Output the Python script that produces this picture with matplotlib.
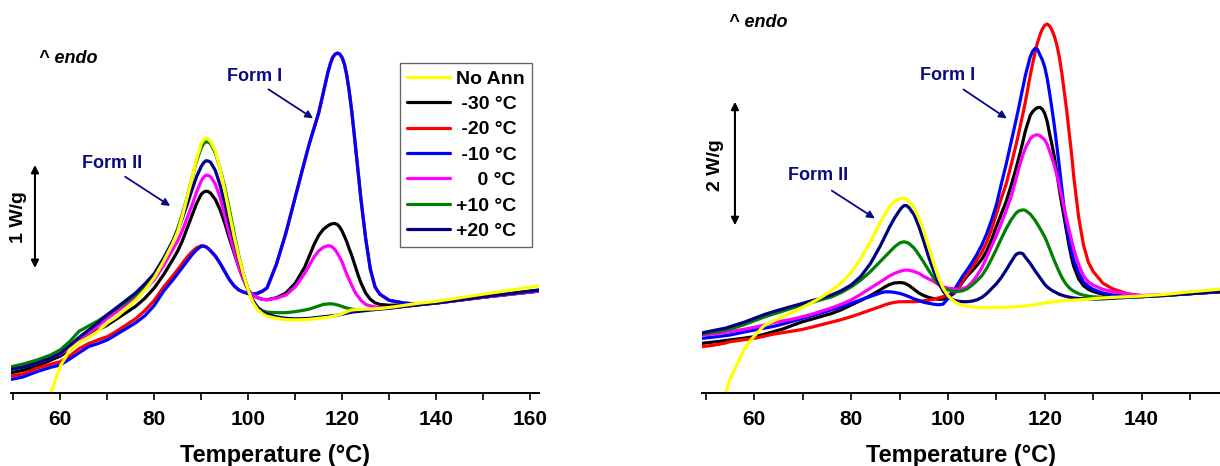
"""
DSC heating curves after annealing at various temperatures.
Two panels: left (1 W/g scale) and right (2 W/g scale).
"""
import numpy as np

import matplotlib

matplotlib.use("Agg")
import matplotlib.pyplot as plt


plt.rcParams["font.family"] = ["Liberation Sans", "DejaVu Sans"]
plt.rcParams["font.weight"] = "bold"

nan = np.nan

# ---------------------------------------------------------------- data
LABELS = ["No Ann", " -30 °C", " -20 °C", " -10 °C", "    0 °C", "+10 °C", "+20 °C"]
KEYS = ["noann", "m30", "m20", "m10", "p0", "p10", "p20"]
COLORS = {"noann": "#FFFF00", "m30": "#000000", "m20": "#FF0000",
          "m10": "#0000FF", "p0": "#FF00FF", "p10": "#008000", "p20": "#000080"}

# left panel: temperature (°C) and heat flow (W/g, shifted)
T_LEFT = np.array([
    49.6, 52, 55, 58, 60, 62, 64, 66, 68, 70,
    72, 74, 76, 78, 80, 82, 84, 85, 86, 87,
    88, 89, 90, 90.5, 91, 91.5, 92, 93, 94, 95,
    96, 97, 98, 99, 100, 101, 102, 103, 104, 106,
    108, 110, 112, 113, 114, 115, 116, 117, 117.5, 118,
    118.5, 119, 119.5, 120, 120.5, 121, 121.5, 122, 122.5, 123,
    123.5, 124, 125, 126, 127, 128, 130, 133, 136, 140,
    150, 162])

left_noann = np.array([
    nan, nan, nan, 0.0, 0.26, 0.42, 0.49, 0.54, 0.6, 0.68,
    0.74, 0.82, 0.9, 1.0, 1.12, 1.28, 1.46, 1.57, 1.72, 1.9,
    2.08, 2.27, 2.42, 2.46, 2.475, 2.465, 2.44, 2.35, 2.18, 1.97,
    1.74, 1.52, 1.32, 1.15, 1.0, 0.88, 0.81, 0.77, 0.745, 0.725,
    0.712, 0.71, 0.712, 0.715, 0.72, 0.725, 0.73, 0.735, 0.74, 0.745,
    0.75, 0.755, 0.762, 0.77, 0.78, 0.79, 0.798, 0.805, 0.808, 0.81,
    0.811, 0.812, 0.815, 0.815, 0.818, 0.82, 0.83, 0.85, 0.87, 0.89,
    0.96, 1.04])
left_m30 = np.array([
    0.197, 0.22, 0.26, 0.32, 0.359, 0.42, 0.5, 0.56, 0.61, 0.66,
    0.72, 0.78, 0.84, 0.92, 1.02, 1.15, 1.3, 1.38, 1.48, 1.6,
    1.72, 1.84, 1.93, 1.95, 1.96, 1.955, 1.94, 1.88, 1.78, 1.65,
    1.5, 1.36, 1.22, 1.1, 1.0, 0.95, 0.925, 0.91, 0.905, 0.925,
    0.97, 1.065, 1.22, 1.33, 1.44, 1.53, 1.59, 1.625, 1.638, 1.645,
    1.645, 1.635, 1.61, 1.57, 1.52, 1.465, 1.4, 1.34, 1.27, 1.2,
    1.13, 1.07, 0.97, 0.91, 0.875, 0.86, 0.852, 0.855, 0.86, 0.875,
    0.93, 0.995])
left_m20 = np.array([
    0.165, 0.185, 0.24, 0.28, 0.304, 0.36, 0.43, 0.48, 0.515, 0.547,
    0.6, 0.66, 0.72, 0.8, 0.9, 1.03, 1.14, 1.2, 1.26, 1.32,
    1.37, 1.41, 1.43, 1.428, 1.42, 1.402, 1.38, 1.33, 1.26, 1.18,
    1.1, 1.04, 1.0, 0.98, 0.965, 0.96, 0.965, 0.985, 1.02, 1.25,
    1.55, 1.9, 2.25, 2.42, 2.57, 2.72, 2.92, 3.12, 3.2, 3.26,
    3.29, 3.3, 3.29, 3.255, 3.19, 3.08, 2.93, 2.75, 2.54, 2.32,
    2.1, 1.88, 1.5, 1.2, 1.03, 0.96, 0.9, 0.875, 0.862, 0.873,
    0.93, 0.99])
left_m10 = np.array([
    0.133, 0.155, 0.207, 0.25, 0.272, 0.33, 0.39, 0.45, 0.48, 0.515,
    0.57, 0.625, 0.68, 0.75, 0.85, 0.99, 1.1, 1.16, 1.22, 1.28,
    1.34, 1.39, 1.425, 1.425, 1.42, 1.402, 1.38, 1.33, 1.26, 1.18,
    1.1, 1.04, 1.0, 0.98, 0.965, 0.96, 0.97, 0.99, 1.02, 1.25,
    1.55, 1.9, 2.25, 2.42, 2.57, 2.72, 2.92, 3.12, 3.2, 3.26,
    3.29, 3.3, 3.29, 3.255, 3.19, 3.08, 2.93, 2.75, 2.54, 2.32,
    2.1, 1.88, 1.5, 1.2, 1.03, 0.96, 0.9, 0.875, 0.862, 0.873,
    0.93, 0.99])
left_p0 = np.array([
    0.24, 0.255, 0.288, 0.34, 0.379, 0.44, 0.52, 0.58, 0.65, 0.725,
    0.79, 0.86, 0.93, 1.01, 1.1, 1.24, 1.4, 1.48, 1.58, 1.7,
    1.82, 1.95, 2.06, 2.095, 2.115, 2.112, 2.1, 2.03, 1.9, 1.72,
    1.54, 1.38, 1.22, 1.1, 1.0, 0.95, 0.925, 0.91, 0.905, 0.92,
    0.95, 1.03, 1.16, 1.24, 1.32, 1.38, 1.415, 1.43, 1.428, 1.415,
    1.39, 1.355, 1.315, 1.27, 1.21, 1.15, 1.1, 1.05, 1.0, 0.96,
    0.93, 0.9, 0.86, 0.845, 0.835, 0.83, 0.83, 0.84, 0.855, 0.873,
    0.93, 0.99])
left_p10 = np.array([
    0.256, 0.28, 0.32, 0.37, 0.42, 0.5, 0.6, 0.65, 0.7, 0.76,
    0.82, 0.88, 0.95, 1.04, 1.15, 1.3, 1.48, 1.6, 1.74, 1.9,
    2.08, 2.25, 2.38, 2.42, 2.44, 2.435, 2.42, 2.33, 2.18, 2.0,
    1.78, 1.55, 1.33, 1.15, 1.0, 0.89, 0.83, 0.8, 0.785, 0.78,
    0.78, 0.79, 0.805, 0.815, 0.83, 0.845, 0.86, 0.865, 0.866, 0.865,
    0.86, 0.855, 0.848, 0.84, 0.832, 0.825, 0.82, 0.815, 0.812, 0.81,
    0.81, 0.81, 0.81, 0.812, 0.815, 0.818, 0.825, 0.84, 0.855, 0.875,
    0.935, 1.0])
left_p20 = np.array([
    0.23, 0.25, 0.29, 0.34, 0.385, 0.46, 0.54, 0.61, 0.68, 0.76,
    0.83, 0.9, 0.97, 1.06, 1.16, 1.31, 1.48, 1.58, 1.7, 1.83,
    1.97, 2.1, 2.2, 2.235, 2.255, 2.252, 2.24, 2.16, 2.02, 1.84,
    1.65, 1.48, 1.3, 1.14, 1.0, 0.9, 0.83, 0.79, 0.765, 0.74,
    0.725, 0.72, 0.722, 0.725, 0.73, 0.735, 0.74, 0.745, 0.748, 0.75,
    0.752, 0.755, 0.76, 0.765, 0.77, 0.775, 0.78, 0.785, 0.788, 0.79,
    0.792, 0.795, 0.8, 0.805, 0.81, 0.815, 0.822, 0.84, 0.855, 0.875,
    0.935, 1.0])

# right panel
T_RIGHT = np.array([
    49.2, 52, 54, 55, 58, 60, 62, 64, 66, 68,
    70, 72, 74, 76, 78, 80, 82, 84, 86, 87,
    88, 89, 90, 90.5, 91, 91.5, 92, 93, 94, 95,
    96, 97, 98, 99, 100, 101, 102, 103, 104, 105,
    106, 107, 108, 109, 110, 111, 112, 113, 114, 114.5,
    115, 115.5, 116, 117, 117.5, 118, 118.5, 119, 119.5, 120,
    120.5, 121, 121.5, 122, 122.5, 123, 123.5, 124, 124.5, 125,
    125.5, 126, 127, 128, 129, 130, 132, 134, 137, 140,
    145, 150, 156.5])

right_noann = np.array([
    nan, nan, 0.0, 0.22, 0.73, 0.925, 1.09, 1.17, 1.24, 1.31,
    1.39, 1.47, 1.56, 1.66, 1.79, 1.95, 2.18, 2.45, 2.76, 2.9,
    3.03, 3.11, 3.15, 3.158, 3.155, 3.135, 3.1, 3.0, 2.84, 2.63,
    2.38, 2.12, 1.88, 1.7, 1.58, 1.5, 1.45, 1.42, 1.405, 1.395,
    1.39, 1.385, 1.385, 1.385, 1.386, 1.388, 1.39, 1.395, 1.4, 1.402,
    1.405, 1.407, 1.41, 1.42, 1.425, 1.43, 1.438, 1.445, 1.452, 1.46,
    1.465, 1.47, 1.475, 1.48, 1.485, 1.49, 1.493, 1.496, 1.498, 1.5,
    1.503, 1.505, 1.51, 1.515, 1.52, 1.53, 1.54, 1.55, 1.56, 1.572,
    1.6, 1.64, 1.685])
right_m30 = np.array([
    0.805, 0.83, 0.85, 0.86, 0.89, 0.913, 0.95, 0.995, 1.04, 1.1,
    1.156, 1.2, 1.245, 1.29, 1.35, 1.426, 1.5, 1.58, 1.67, 1.72,
    1.76, 1.785, 1.79, 1.788, 1.78, 1.762, 1.74, 1.68, 1.62, 1.58,
    1.55, 1.53, 1.52, 1.52, 1.55, 1.6, 1.67, 1.8, 1.9, 1.98,
    2.07, 2.17, 2.3, 2.48, 2.7, 2.9, 3.1, 3.35, 3.62, 3.77,
    3.92, 4.08, 4.25, 4.5, 4.56, 4.6, 4.625, 4.63, 4.6, 4.53,
    4.4, 4.2, 4.02, 3.82, 3.57, 3.3, 3.07, 2.85, 2.62, 2.4,
    2.2, 2.05, 1.85, 1.74, 1.68, 1.645, 1.6, 1.575, 1.565, 1.562,
    1.58, 1.61, 1.64])
right_m20 = np.array([
    0.75, 0.78, 0.81, 0.832, 0.865, 0.886, 0.92, 0.955, 0.98, 1.005,
    1.032, 1.07, 1.11, 1.15, 1.19, 1.237, 1.29, 1.345, 1.4, 1.43,
    1.453, 1.47, 1.48, 1.48, 1.48, 1.48, 1.48, 1.48, 1.485, 1.495,
    1.505, 1.52, 1.54, 1.561, 1.59, 1.62, 1.67, 1.82, 1.93, 2.04,
    2.16, 2.28, 2.44, 2.65, 2.9, 3.15, 3.38, 3.68, 4.0, 4.17,
    4.35, 4.53, 4.72, 5.15, 5.34, 5.52, 5.68, 5.8, 5.9, 5.96,
    5.98, 5.95, 5.88, 5.78, 5.64, 5.45, 5.2, 4.9, 4.6, 4.25,
    3.9, 3.5, 2.85, 2.4, 2.12, 1.97, 1.78, 1.69, 1.61, 1.578,
    1.59, 1.615, 1.645])
right_m10 = np.array([
    0.886, 0.91, 0.93, 0.94, 0.99, 1.021, 1.05, 1.08, 1.12, 1.165,
    1.21, 1.255, 1.3, 1.35, 1.4, 1.453, 1.51, 1.565, 1.62, 1.64,
    1.64, 1.63, 1.615, 1.603, 1.59, 1.575, 1.56, 1.525, 1.5, 1.47,
    1.455, 1.44, 1.43, 1.44, 1.53, 1.64, 1.76, 1.89, 2.0, 2.12,
    2.25, 2.4, 2.58, 2.8, 3.05, 3.38, 3.7, 4.05, 4.4, 4.58,
    4.77, 4.96, 5.15, 5.45, 5.54, 5.586, 5.57, 5.48, 5.4, 5.28,
    5.1, 4.86, 4.6, 4.32, 4.0, 3.68, 3.33, 3.0, 2.72, 2.5,
    2.3, 2.15, 1.95, 1.8, 1.73, 1.68, 1.62, 1.59, 1.575, 1.57,
    1.585, 1.61, 1.645])
right_p0 = np.array([
    0.94, 0.96, 0.98, 0.994, 1.035, 1.064, 1.1, 1.14, 1.17, 1.2,
    1.237, 1.28, 1.33, 1.38, 1.44, 1.507, 1.6, 1.7, 1.8, 1.85,
    1.9, 1.94, 1.97, 1.982, 1.99, 1.993, 1.99, 1.97, 1.94, 1.89,
    1.85, 1.81, 1.76, 1.72, 1.7, 1.69, 1.68, 1.69, 1.72, 1.8,
    1.9, 2.03, 2.2, 2.38, 2.55, 2.75, 2.95, 3.17, 3.45, 3.6,
    3.74, 3.86, 3.97, 4.12, 4.16, 4.18, 4.185, 4.17, 4.14, 4.1,
    4.03, 3.92, 3.81, 3.68, 3.53, 3.36, 3.18, 3.0, 2.82, 2.65,
    2.49, 2.33, 2.08, 1.9, 1.8, 1.75, 1.68, 1.643, 1.605, 1.58,
    1.59, 1.615, 1.645])
right_p10 = np.array([
    0.955, 0.99, 1.02, 1.035, 1.11, 1.17, 1.23, 1.28, 1.33, 1.38,
    1.426, 1.47, 1.515, 1.56, 1.63, 1.72, 1.83, 1.97, 2.13, 2.21,
    2.29, 2.37, 2.43, 2.445, 2.45, 2.44, 2.42, 2.35, 2.24, 2.12,
    1.99, 1.87, 1.77, 1.7, 1.67, 1.65, 1.645, 1.655, 1.69, 1.75,
    1.82, 1.9, 2.02, 2.17, 2.33, 2.5, 2.66, 2.8, 2.91, 2.945,
    2.96, 2.968, 2.96, 2.9, 2.85, 2.8, 2.735, 2.67, 2.6, 2.53,
    2.44, 2.34, 2.24, 2.14, 2.05, 1.96, 1.88, 1.81, 1.755, 1.71,
    1.675, 1.65, 1.61, 1.585, 1.57, 1.56, 1.55, 1.55, 1.555, 1.562,
    1.585, 1.61, 1.645])
right_p20 = np.array([
    0.975, 1.02, 1.05, 1.075, 1.15, 1.21, 1.27, 1.32, 1.365, 1.41,
    1.453, 1.5, 1.54, 1.59, 1.66, 1.75, 1.89, 2.1, 2.38, 2.54,
    2.7, 2.84, 2.96, 3.01, 3.04, 3.035, 3.0, 2.89, 2.7, 2.46,
    2.21, 1.99, 1.8, 1.65, 1.56, 1.51, 1.49, 1.48, 1.48, 1.49,
    1.51, 1.55, 1.61, 1.69, 1.77, 1.87, 1.99, 2.12, 2.24, 2.265,
    2.27, 2.255, 2.2, 2.1, 2.04, 1.98, 1.925, 1.87, 1.815, 1.76,
    1.72, 1.69, 1.662, 1.64, 1.62, 1.6, 1.587, 1.575, 1.565, 1.555,
    1.547, 1.54, 1.532, 1.527, 1.524, 1.522, 1.525, 1.535, 1.548, 1.56,
    1.585, 1.61, 1.645])

LEFT = {"noann": left_noann, "m30": left_m30, "m20": left_m20, "m10": left_m10,
        "p0": left_p0, "p10": left_p10, "p20": left_p20}
RIGHT = {"noann": right_noann, "m30": right_m30, "m20": right_m20,
         "m10": right_m10, "p0": right_p0, "p10": right_p10, "p20": right_p20}

# draw order (last on top)
DRAW_ORDER = ["m30", "m20", "m10", "p0", "p10", "p20", "noann"]
NAVY = "#0A0A80"


def setup_axis(ax, xlim, ylim):
    ax.set_xlim(*xlim)
    ax.set_ylim(*ylim)
    for s in ("left", "right", "top"):
        ax.spines[s].set_visible(False)
    ax.spines["bottom"].set_linewidth(1.4)
    ax.set_yticks([])
    ax.set_xticks(np.arange(60, xlim[1] + 0.1, 20))
    ax.set_xticks(np.arange(50, xlim[1] + 0.1, 10), minor=True)
    ax.tick_params(axis="x", which="both", direction="out", length=5,
                   width=1.2, labelsize=15, pad=7)
    for lab in ax.get_xticklabels():
        lab.set_fontweight("bold")
    ax.set_xlabel("Temperature (°C)", fontsize=17, fontweight="bold", labelpad=11)
    ax.patch.set_alpha(0)


def draw_curves(ax, T, curves):
    handles = {}
    for k in DRAW_ORDER:
        assert len(curves[k]) == len(T), k
        (h,) = ax.plot(T, curves[k], color=COLORS[k], lw=2.3,
                       solid_joinstyle="round", solid_capstyle="round")
        handles[k] = h
    return handles


def scale_bar(ax, x, y0, y1, text, tx, ty):
    ax.annotate("", xy=(x, y1), xytext=(x, y0),
                arrowprops=dict(arrowstyle="<|-|>", color="black", lw=1.5,
                                mutation_scale=11, shrinkA=0, shrinkB=0))
    ax.text(tx, ty, text, rotation=90, ha="center", va="center",
            fontsize=14, fontweight="bold")


def form_label(ax, text, tx, ty, a0, a1):
    ax.text(tx, ty, text, ha="center", va="center", fontsize=13,
            fontweight="bold", color=NAVY)
    ax.annotate("", xy=a1, xytext=a0,
                arrowprops=dict(arrowstyle="-|>", color=NAVY, lw=1.3,
                                mutation_scale=11, shrinkA=0, shrinkB=0))


def main():
    fig = plt.figure(figsize=(12.2, 4.66), dpi=100)
    W, H = 1220.0, 466.0

    ax1 = fig.add_axes([11 / W, 73 / H, 528 / W, 393 / H])
    ax2 = fig.add_axes([701.7 / W, 73 / H, 518.3 / W, 393 / H])

    setup_axis(ax1, (49.5, 161.9), (0, 3.816))
    setup_axis(ax2, (49.13, 156.2), (0, 6.37))

    h1 = draw_curves(ax1, T_LEFT, LEFT)
    draw_curves(ax2, T_RIGHT, RIGHT)

    # left annotations
    ax1.text(61.6, 3.25, "^ endo", ha="center", va="center", fontsize=13,
             fontweight="bold", style="italic")
    scale_bar(ax1, 54.6, 1.214, 2.214, "1 W/g", 51.1, 1.71)
    form_label(ax1, "Form II", 71.0, 2.233, (73.8, 2.1), (83.4, 1.816))
    form_label(ax1, "Form I", 101.25, 3.078, (104.3, 2.949), (113.8, 2.667))

    # right annotations
    ax2.text(60.8, 6.0, "^ endo", ha="center", va="center", fontsize=13,
             fontweight="bold", style="italic")
    scale_bar(ax2, 56.0, 2.72, 4.72, "2 W/g", 51.9, 3.7)
    form_label(ax2, "Form II", 73.2, 3.52, (76.0, 3.28), (84.9, 2.83))
    form_label(ax2, "Form I", 99.9, 5.15, (103.2, 4.92), (112.15, 4.45))

    leg = ax1.legend([h1[k] for k in KEYS], LABELS,
                     loc="upper left", bbox_to_anchor=(400 / W, 1 - 63.3 / H),
                     bbox_transform=fig.transFigure, borderaxespad=0,
                     fontsize=14, frameon=True, fancybox=False,
                     handlelength=2.2, handletextpad=0.35, labelspacing=0.4,
                     borderpad=0.35)
    leg.get_frame().set_edgecolor("#404040")
    leg.get_frame().set_linewidth(1.0)
    for t in leg.get_texts():
        t.set_fontweight("bold")

    fig.savefig("out.png", dpi=100)
    plt.close(fig)


if __name__ == "__main__":
    main()
